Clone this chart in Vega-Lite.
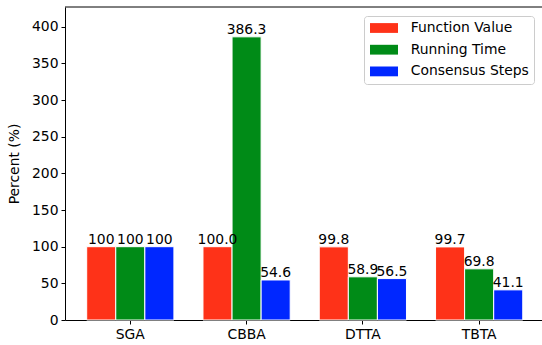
{
  "$schema": "https://vega.github.io/schema/vega-lite/v6.json",
  "width": 477,
  "height": 313,
  "autosize": {"type": "none"},
  "padding": {"left": 65, "top": 7, "right": 0, "bottom": 25},
  "background": "white",
  "config": {
    "font": "DejaVu Sans",
    "view": {"stroke": null},
    "axis": {
      "domainColor": "black",
      "domainWidth": 1,
      "tickColor": "black",
      "tickWidth": 1,
      "tickSize": 4,
      "labelColor": "black",
      "labelFontSize": 13.9,
      "labelFont": "DejaVu Sans",
      "labelOverlap": false,
      "titleColor": "black",
      "titleFontSize": 13.9,
      "titleFont": "DejaVu Sans",
      "titleFontWeight": "normal",
      "grid": false
    }
  },
  "data": {
    "values": [
      {"algo": "SGA", "metric": "Function Value", "value": 100, "label": "100"},
      {"algo": "SGA", "metric": "Running Time", "value": 100, "label": "100"},
      {"algo": "SGA", "metric": "Consensus Steps", "value": 100, "label": "100"},
      {"algo": "CBBA", "metric": "Function Value", "value": 100.0, "label": "100.0"},
      {"algo": "CBBA", "metric": "Running Time", "value": 386.3, "label": "386.3"},
      {"algo": "CBBA", "metric": "Consensus Steps", "value": 54.6, "label": "54.6"},
      {"algo": "DTTA", "metric": "Function Value", "value": 99.8, "label": "99.8"},
      {"algo": "DTTA", "metric": "Running Time", "value": 58.9, "label": "58.9"},
      {"algo": "DTTA", "metric": "Consensus Steps", "value": 56.5, "label": "56.5"},
      {"algo": "TBTA", "metric": "Function Value", "value": 99.7, "label": "99.7"},
      {"algo": "TBTA", "metric": "Running Time", "value": 69.8, "label": "69.8"},
      {"algo": "TBTA", "metric": "Consensus Steps", "value": 41.1, "label": "41.1"}
    ]
  },
  "layer": [
    {
      "mark": {"type": "bar", "stroke": "white", "strokeWidth": 1},
      "encoding": {
        "x": {
          "field": "algo",
          "type": "nominal",
          "sort": ["SGA", "CBBA", "DTTA", "TBTA"],
          "scale": {"paddingInner": 0.25, "paddingOuter": 0.176, "align": 0.53},
          "axis": {"title": null, "labelAngle": 0, "labelPadding": 3}
        },
        "xOffset": {
          "field": "metric",
          "type": "nominal",
          "sort": ["Function Value", "Running Time", "Consensus Steps"],
          "scale": {"paddingInner": 0, "paddingOuter": 0}
        },
        "y": {
          "field": "value",
          "type": "quantitative",
          "scale": {"domain": [0, 427], "nice": false},
          "axis": {
            "title": "Percent (%)",
            "values": [0, 50, 100, 150, 200, 250, 300, 350, 400],
            "labelPadding": 3,
            "labelOverlap": false,
            "titleX": -51,
            "titleY": 156.5,
            "titleAngle": -90,
            "titleAlign": "center",
            "titleBaseline": "middle"
          }
        },
        "color": {
          "field": "metric",
          "type": "nominal",
          "sort": ["Function Value", "Running Time", "Consensus Steps"],
          "scale": {
            "domain": ["Function Value", "Running Time", "Consensus Steps"],
            "range": ["#fe3218", "#008b17", "#0027ff"]
          },
          "legend": {
            "title": null,
            "orient": "none",
            "legendX": 299,
            "legendY": 9,
            "symbolType": "M-2,-0.7H2V0.7H-2Z",
            "symbolSize": 196,
            "symbolOffset": 8,
            "symbolStrokeWidth": 0,
            "labelFontSize": 13.9,
            "labelFont": "DejaVu Sans",
            "labelColor": "black",
            "labelOffset": 19.7,
            "rowPadding": 7.7,
            "padding": 5,
            "fillColor": "rgba(255,255,255,0.8)",
            "strokeColor": "#cccccc",
            "cornerRadius": 3
          }
        }
      }
    },
    {
      "mark": {"type": "text", "dy": -3, "baseline": "alphabetic", "align": "center", "fontSize": 13.9, "font": "DejaVu Sans", "color": "black"},
      "encoding": {
        "x": {"field": "algo", "type": "nominal", "sort": ["SGA", "CBBA", "DTTA", "TBTA"]},
        "xOffset": {"field": "metric", "type": "nominal", "sort": ["Function Value", "Running Time", "Consensus Steps"]},
        "y": {
          "field": "value",
          "type": "quantitative",
          "axis": {
            "title": "Percent (%)",
            "values": [0, 50, 100, 150, 200, 250, 300, 350, 400],
            "labelPadding": 3,
            "labelOverlap": false,
            "titleX": -51,
            "titleY": 156.5,
            "titleAngle": -90,
            "titleAlign": "center",
            "titleBaseline": "middle"
          }
        },
        "text": {"field": "label", "type": "nominal"}
      }
    },
    {
      "data": {"values": [{}]},
      "mark": {"type": "rule", "color": "black", "strokeWidth": 1},
      "encoding": {
        "y": {
          "datum": 427,
          "type": "quantitative",
          "axis": {
            "title": "Percent (%)",
            "values": [0, 50, 100, 150, 200, 250, 300, 350, 400],
            "labelPadding": 3,
            "labelOverlap": false,
            "titleX": -51,
            "titleY": 156.5,
            "titleAngle": -90,
            "titleAlign": "center",
            "titleBaseline": "middle"
          }
        }
      }
    }
  ]
}
